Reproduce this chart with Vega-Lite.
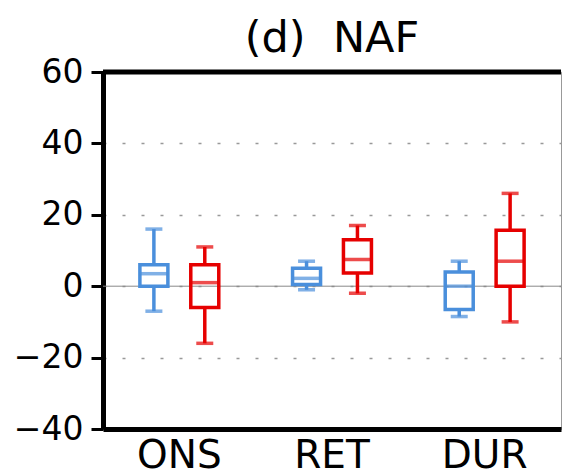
{
  "$schema": "https://vega.github.io/schema/vega-lite/v6.json",
  "autosize": "none",
  "width": 458,
  "height": 357,
  "padding": {"left": 103, "top": 72, "right": 1, "bottom": 47},
  "background": "white",
  "config": {
    "view": {"stroke": "#999999", "strokeWidth": 1},
    "font": "DejaVu Sans"
  },
  "title": {
    "text": "(d)\u00a0\u00a0NAF",
    "fontSize": 43,
    "font": "DejaVu Sans",
    "fontWeight": "normal",
    "color": "black",
    "anchor": "middle",
    "offset": -5
  },
  "data": {
    "values": [
      {"cat": "ONS", "grp": "A", "lower": -7, "q1": 0, "median": 3.5, "q3": 6, "upper": 16},
      {"cat": "ONS", "grp": "B", "lower": -16, "q1": -6, "median": 1, "q3": 6, "upper": 11},
      {"cat": "RET", "grp": "A", "lower": -1, "q1": 0.5, "median": 2.2, "q3": 5, "upper": 7},
      {"cat": "RET", "grp": "B", "lower": -2, "q1": 3.7, "median": 7.5, "q3": 13, "upper": 17},
      {"cat": "DUR", "grp": "A", "lower": -8.5, "q1": -6.5, "median": 0, "q3": 4, "upper": 7},
      {"cat": "DUR", "grp": "B", "lower": -10, "q1": 0, "median": 7, "q3": 15.7, "upper": 26}
    ]
  },
  "encoding": {
    "x": {
      "field": "cat",
      "type": "nominal",
      "sort": ["ONS", "RET", "DUR"],
      "scale": {"paddingInner": 0, "paddingOuter": 0},
      "axis": {
        "title": null,
        "labelAngle": 0,
        "labelFontSize": 39,
        "labelFont": "DejaVu Sans",
        "labelColor": "black",
        "labelPadding": 7,
        "ticks": false,
        "domainColor": "black",
        "domainWidth": 5
      }
    },
    "xOffset": {
      "field": "grp",
      "type": "nominal",
      "scale": {"domain": ["A", "B"], "paddingInner": 0, "paddingOuter": 0.5}
    },
    "color": {
      "field": "grp",
      "type": "nominal",
      "scale": {"domain": ["A", "B"], "range": ["#4a8fdc", "#e60000"]},
      "legend": null
    }
  },
  "layer": [
    {
      "data": {"values": [{"z": 0}]},
      "mark": {"type": "rule", "color": "#888888", "strokeWidth": 1},
      "encoding": {
        "y": {
          "field": "z",
          "type": "quantitative",
          "scale": {"domain": [-40, 60], "nice": false, "zero": false},
          "axis": {
            "title": null,
            "values": [-40, -20, 0, 20, 40, 60],
            "labelFontSize": 33,
            "labelFont": "DejaVu Sans",
            "labelColor": "black",
            "labelPadding": 8,
            "tickSize": 12,
            "tickWidth": 3,
            "tickColor": "black",
            "domainColor": "black",
            "domainWidth": 5,
            "grid": true,
            "gridColor": "#999999",
            "gridWidth": 1.5,
            "gridDash": [3, 16]
          }
        },
        "x": null,
        "xOffset": null,
        "color": null
      }
    },
    {
      "data": {"values": [{"top": 60}]},
      "mark": {"type": "rule", "color": "black", "strokeWidth": 5},
      "encoding": {
        "y": {"field": "top", "type": "quantitative"},
        "x": null,
        "xOffset": null,
        "color": null
      }
    },
    {
      "mark": {"type": "rule", "strokeWidth": 3.5},
      "encoding": {"y": {"field": "lower", "type": "quantitative"}, "y2": {"field": "q1"}}
    },
    {
      "mark": {"type": "rule", "strokeWidth": 3.5},
      "encoding": {"y": {"field": "q3", "type": "quantitative"}, "y2": {"field": "upper"}}
    },
    {
      "mark": {"type": "bar", "filled": false, "strokeWidth": 3.5, "width": 28},
      "encoding": {"y": {"field": "q1", "type": "quantitative"}, "y2": {"field": "q3"}}
    },
    {
      "mark": {"type": "tick", "size": 28, "thickness": 3.5},
      "encoding": {"y": {"field": "median", "type": "quantitative"}}
    },
    {
      "mark": {"type": "tick", "size": 17, "thickness": 3.5},
      "encoding": {"y": {"field": "lower", "type": "quantitative"}}
    },
    {
      "mark": {"type": "tick", "size": 17, "thickness": 3.5},
      "encoding": {"y": {"field": "upper", "type": "quantitative"}}
    }
  ]
}
